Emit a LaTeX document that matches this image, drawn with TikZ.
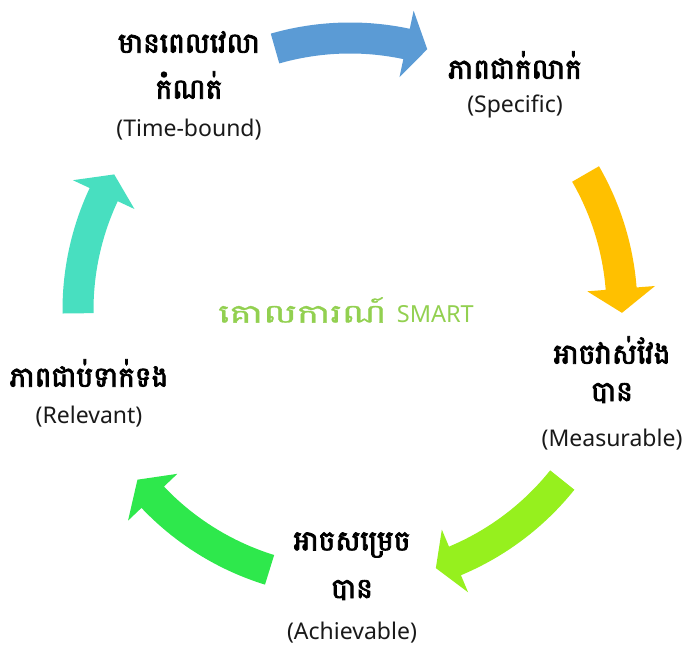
\documentclass[tikz,border=0pt]{standalone}
\usepackage{fontspec}
\setmainfont{Noto Sans}
\newfontfamily\khmer[Script=Khmer,AutoFakeBold=3]{Battambang}
\newfontfamily\khmerwide[Script=Khmer,FakeStretch=1.45,FakeBold=1.2]{Battambang}
\definecolor{cblue}{HTML}{5B9BD5}
\definecolor{cyellow}{HTML}{FFC000}
\definecolor{clime}{HTML}{96F01E}
\definecolor{cgreen}{HTML}{2EE84C}
\definecolor{cteal}{HTML}{48DFC0}
\definecolor{ctitle}{HTML}{92D050}
\newcommand\cycarrow[4]{%
  \fill[#1] (#2:287.5) arc[start angle=#2, end angle=#3, radius=287.5]
    -- (#3:306) -- (#4:272) -- (#3:238) -- (#3:256.5)
    arc[start angle=#3, end angle=#2, radius=256.5] -- cycle;}
\tikzset{
  lat/.style={font=\fontsize{23}{27}\selectfont, inner sep=0pt, text=black!90},
  kh/.style={font=\khmer\bfseries\fontsize{28}{32}\selectfont, inner sep=0pt, text=black},
  ttl/.style={inner sep=0pt, text=ctitle, font=\fontsize{23.5}{27}\selectfont}
}
\begin{document}
\begin{tikzpicture}[x=1pt,y=1pt]
\useasboundingbox (0,0) rectangle (685,646);
\begin{scope}[shift={(350,336)}]
  \cycarrow{cblue}{106}{78}{73.5}
  \cycarrow{cyellow}{30}{4.5}{-0.6}
  \cycarrow{clime}{-38.7}{-67.3}{-71.6}
  \cycarrow{cgreen}{252.8}{223.5}{218.6}
  \cycarrow{cteal}{180.7}{154.9}{150.1}
\end{scope}
% Time-bound
\node[kh] (tb1) at (189,604) {មានពេលវេលា};
\node[kh] (tb2) at (189,561) {កំណត់};
\node[lat] (tb3) at (189,516) {(Time-bound)};
% Specific
\node[kh] (sp1) at (515,581) {ភាពជាក់លាក់};
\node[lat] (sp2) at (515,540) {(Specific)};
% Measurable
\node[kh] (me1) at (612,296) {អាចវាស់វែង};
\node[kh] (me2) at (612,253) {បាន};
\node[lat] (me3) at (612,206) {(Measurable)};
% Achievable
\node[kh] (ac1) at (352,101) {អាចសម្រេច};
\node[kh] (ac2) at (352,56) {បាន};
\node[lat] (ac3) at (352,13) {(Achievable)};
% Relevant
\node[kh] (re1) at (89,273) {ភាពជាប់ទាក់ទង};
\node[lat] (re2) at (89,229) {(Relevant)};
% Title
\node[ttl] (title) at (346,336) {{\khmerwide\fontsize{26}{30}\selectfont គោលការណ៍}\hspace{4pt} SMART};
\end{tikzpicture}
\end{document}
